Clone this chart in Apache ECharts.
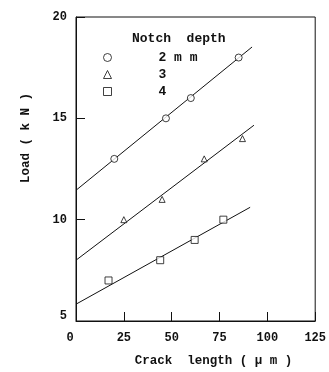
<!DOCTYPE html>
<html>
<head>
<meta charset="utf-8">
<script src="https://cdn.jsdelivr.net/npm/echarts@6/dist/echarts.min.js"></script>
<style>html,body{margin:0;padding:0;background:#fff;}#c{width:329px;height:372px;}</style>
</head>
<body>
<div id="c"></div>
<script>
// Measured points: crack length (µm) vs load (kN)
var x2mm = [20, 47, 60, 85];
var y2mm = [13, 15, 16, 18];
var x3mm = [25, 45, 67, 87];
var y3mm = [10, 11, 13, 14];
var x4mm = [17, 44, 62, 77];
var y4mm = [7, 8, 9, 10];
// Fitted lines (endpoints)
var fitX2 = [0, 92];   var fitY2 = [11.45, 18.52];
var fitX3 = [0, 93];   var fitY3 = [8.0, 14.66];
var fitX4 = [0, 91];   var fitY4 = [5.83, 10.61];
var seriesNames = ['2 m m', '3', '4'];
var xTicks = [0, 25, 50, 75, 100, 125];
var yTicks = [5, 10, 15, 20];

function pairs(xs, ys) { return xs.map(function (x, i) { return [x, ys[i]]; }); }

var fontMono = '"Liberation Mono", "DejaVu Sans Mono", monospace';
var ink = '#111';
var chart = echarts.init(document.getElementById('c'), null, { renderer: 'canvas' });
var markerStyle = { color: '#fff', borderColor: ink, borderWidth: 1 };
var lineStyle = { color: ink, width: 1 };
var labelFont = { fontFamily: fontMono, fontSize: 12, fontWeight: 'bold', color: ink };

chart.setOption({
  animation: false,
  backgroundColor: '#fff',
  title: {
    text: 'Notch  depth', left: 127, top: 27,
    textStyle: { fontFamily: fontMono, fontSize: 13, fontWeight: 'bold', color: ink }
  },
  legend: {
    data: seriesNames, orient: 'vertical', left: 98, top: 45,
    itemWidth: 8, itemHeight: 8, itemGap: 2,
    itemStyle: { borderWidth: 1, borderColor: ink, color: '#fff' },
    textStyle: { fontFamily: fontMono, fontSize: 13, fontWeight: 'bold', color: ink, padding: [0, 0, 0, 42], lineHeight: 15 },
    selectedMode: false
  },
  grid: { left: 76, right: 7, top: 17, bottom: 47, show: true, borderColor: ink, borderWidth: 1, backgroundColor: 'transparent' },
  xAxis: {
    type: 'value', min: xTicks[0], max: xTicks[xTicks.length - 1], interval: 25,
    name: 'Crack  length ( μ m )', nameLocation: 'middle', nameGap: 33,
    nameTextStyle: { fontFamily: fontMono, fontSize: 12.5, fontWeight: 'bold', color: ink, padding: [0, 0, 0, 36] },
    axisLine: { lineStyle: { color: ink, width: 1 } },
    axisTick: { inside: true, length: 9, lineStyle: { color: ink } },
    axisLabel: Object.assign({ margin: 11,
      formatter: function (v) { return v === 0 ? '{z|0}' : String(v); },
      rich: { z: Object.assign({ padding: [0, 12, 0, 0] }, labelFont) } }, labelFont),
    splitLine: { show: false }
  },
  yAxis: {
    type: 'value', min: yTicks[0], max: yTicks[yTicks.length - 1], interval: 5,
    name: 'Load ( k N )', nameLocation: 'middle', nameGap: 44, nameRotate: 90,
    nameTextStyle: { fontFamily: fontMono, fontSize: 12.5, fontWeight: 'bold', color: ink, padding: [0, 0, 0, 62] },
    axisLine: { lineStyle: { color: ink, width: 1 } },
    axisTick: { inside: true, length: 9, lineStyle: { color: ink } },
    axisLabel: Object.assign({ margin: 9,
      formatter: function (v) { return v === 5 ? '{lo|5}' : String(v); },
      rich: { lo: Object.assign({ padding: [0, 0, 10, 0] }, labelFont) } }, labelFont),
    splitLine: { show: false }
  },
  series: [
    { type: 'line', data: pairs(fitX2, fitY2), showSymbol: false, silent: true, lineStyle: lineStyle, z: 1 },
    { type: 'line', data: pairs(fitX3, fitY3), showSymbol: false, silent: true, lineStyle: lineStyle, z: 1 },
    { type: 'line', data: pairs(fitX4, fitY4), showSymbol: false, silent: true, lineStyle: lineStyle, z: 1 },
    { name: seriesNames[0], type: 'scatter', data: pairs(x2mm, y2mm), symbol: 'circle', symbolSize: 7, itemStyle: markerStyle, z: 3 },
    { name: seriesNames[1], type: 'scatter', data: pairs(x3mm, y3mm), symbol: 'triangle', symbolSize: 6, itemStyle: markerStyle, z: 3 },
    { name: seriesNames[2], type: 'scatter', data: pairs(x4mm, y4mm), symbol: 'rect', symbolSize: 7, itemStyle: markerStyle, z: 3 }
  ]
});
</script>
</body>
</html>
